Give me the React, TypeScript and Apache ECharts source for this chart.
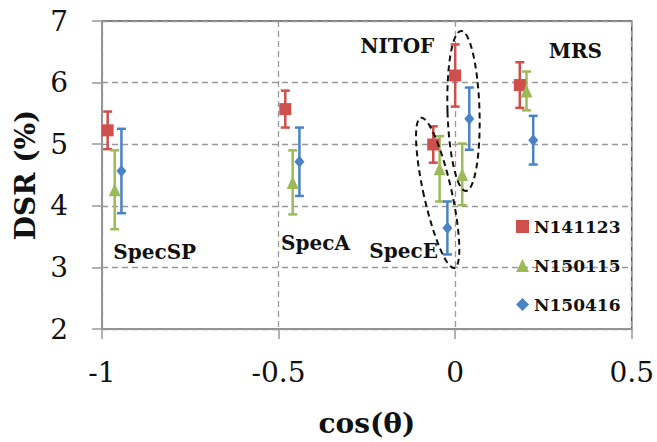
import React, { useEffect, useRef } from "react";
import * as echarts from "echarts";

const seriesNames = ["N141123", "N150115", "N150416"];
const seriesColors = ["#CF4F4C", "#9BBB59", "#4A83C4"];
const seriesSymbols = ["rect", "triangle", "diamond"];

const n141123X = [-0.984, -0.481, -0.062, 0.0, 0.183];
const n141123Y = [5.225, 5.57, 4.995, 6.115, 5.96];
const n141123Err = [0.305, 0.3, 0.295, 0.505, 0.37];

const n150115X = [-0.964, -0.46, -0.044, 0.02, 0.202];
const n150115Y = [4.26, 4.38, 4.6, 4.51, 5.865];
const n150115Err = [0.64, 0.52, 0.53, 0.5, 0.315];

const n150416X = [-0.945, -0.441, -0.022, 0.04, 0.221];
const n150416Y = [4.565, 4.715, 3.64, 5.415, 5.065];
const n150416Err = [0.685, 0.555, 0.43, 0.505, 0.395];

const xTicks = { min: -1, max: 0.5, interval: 0.5 };
const yTicks = { min: 2, max: 7, interval: 1 };

const labelTexts = ["SpecSP", "SpecA", "SpecE", "NITOF", "MRS"];

const SERIF = "DejaVu Serif";

function buildData(xs: number[], ys: number[], es: number[]) {
  return xs.map((x, i) => [x, ys[i], es[i]]);
}

export default function App() {
  const ref = useRef<HTMLDivElement>(null);
  useEffect(() => {
    if (!ref.current) return;
    const chart = echarts.init(ref.current, null, { renderer: "svg" });
    const datasets = [
      buildData(n141123X, n141123Y, n141123Err),
      buildData(n150115X, n150115Y, n150115Err),
      buildData(n150416X, n150416Y, n150416Err),
    ];
    const symbolSizes: any[] = [12, [12, 13], [10, 12]];
    const errSeries = datasets.map((d, i) => ({
      type: "custom",
      name: "err" + i,
      data: d,
      z: 2,
      renderItem: (params: any, api: any) => {
        const x = api.value(0);
        const y = api.value(1);
        const e = api.value(2);
        const top = api.coord([x, y + e]);
        const bot = api.coord([x, y - e]);
        const st = { stroke: seriesColors[i], lineWidth: 2.5 };
        const cw = 4.5;
        return {
          type: "group",
          children: [
            { type: "line", shape: { x1: top[0], y1: top[1], x2: bot[0], y2: bot[1] }, style: st },
            { type: "line", shape: { x1: top[0] - cw, y1: top[1], x2: top[0] + cw, y2: top[1] }, style: st },
            { type: "line", shape: { x1: bot[0] - cw, y1: bot[1], x2: bot[0] + cw, y2: bot[1] }, style: st },
          ],
        };
      },
    }));
    const markSeries = datasets.map((d, i) => ({
      type: "scatter",
      name: seriesNames[i],
      data: d.map((p) => [p[0], p[1]]),
      symbol: seriesSymbols[i],
      symbolSize: symbolSizes[i],
      itemStyle: { color: seriesColors[i], opacity: 1 },
      z: 3,
    }));
    chart.setOption({
      animation: false,
      grid: {
        left: 102,
        right: 21.5,
        top: 21,
        bottom: 112,
        show: true,
        borderColor: "#555",
        borderWidth: 1.5,
        backgroundColor: "transparent",
      },
      xAxis: {
        type: "value",
        min: xTicks.min,
        max: xTicks.max,
        interval: xTicks.interval,
        name: "cos(θ)",
        nameLocation: "middle",
        nameGap: 80,
        nameTextStyle: { fontFamily: SERIF, fontWeight: "bold", fontSize: 28, color: "#111" },
        axisLine: { show: true, onZero: false, lineStyle: { color: "#999", width: 1.5 } },
        axisTick: { show: true, length: 10, lineStyle: { color: "#999", width: 1.5 } },
        axisLabel: { fontFamily: SERIF, fontSize: 28, color: "#111", margin: 29 },
        splitLine: { show: true, lineStyle: { color: "#999", width: 1.3, type: [6, 4] } },
      },
      yAxis: {
        type: "value",
        min: yTicks.min,
        max: yTicks.max,
        interval: yTicks.interval,
        name: "DSR (%)",
        nameLocation: "middle",
        nameGap: 58,
        nameTextStyle: { fontFamily: SERIF, fontWeight: "bold", fontSize: 28, color: "#111" },
        axisLine: { show: true, onZero: false, lineStyle: { color: "#999", width: 1.5 } },
        axisTick: { show: true, length: 10, lineStyle: { color: "#999", width: 1.5 } },
        axisLabel: { fontFamily: SERIF, fontSize: 28, color: "#111", margin: 34 },
        splitLine: { show: true, lineStyle: { color: "#999", width: 1.3, type: [6, 4] } },
      },
      legend: {
        orient: "vertical",
        left: 511,
        top: 213,
        itemWidth: 13,
        itemHeight: 13,
        itemGap: 22,
        data: seriesNames,
        textStyle: { fontFamily: SERIF, fontWeight: "bold", fontSize: 17, color: "#111" },
      },
      series: [...errSeries, ...markSeries],
    });

    const px = (p: number[]) => chart.convertToPixel({ gridIndex: 0 }, p) as number[];
    const specE = px([-0.0495, 4.21]);
    const nitof = px([0.0236, 5.54]);
    const labelPos = [
      px([-0.968, 3.25]),
      px([-0.493, 3.4]),
      px([-0.243, 3.26]),
      px([-0.269, 6.6]),
      px([0.265, 6.52]),
    ];
    const font = `bold 20px "${SERIF}"`;
    chart.setOption({
      graphic: [
        {
          type: "ellipse",
          x: specE[0],
          y: specE[1],
          rotation: 0.22,
          shape: { cx: 0, cy: 0, rx: 14, ry: 77 },
          style: { fill: "none", stroke: "#111", lineWidth: 2, lineDash: [6, 4] },
          z: 10,
        },
        {
          type: "ellipse",
          x: nitof[0],
          y: nitof[1],
          rotation: 0.03,
          shape: { cx: 0, cy: 0, rx: 16, ry: 80 },
          style: { fill: "none", stroke: "#111", lineWidth: 2, lineDash: [6, 4] },
          z: 10,
        },
        ...labelTexts.map((t, i) => ({
          type: "text",
          x: labelPos[i][0],
          y: labelPos[i][1],
          z: 10,
          style: {
            text: t,
            font,
            fill: "#111",
            textAlign: "left",
            textVerticalAlign: "middle",
            align: "left",
            verticalAlign: "middle",
          },
        })),
      ],
    });
    return () => chart.dispose();
  }, []);
  return (
    <div
      ref={ref}
      style={{ position: "fixed", left: 0, top: 0, width: 657, height: 442, background: "#fff" }}
    />
  );
}
